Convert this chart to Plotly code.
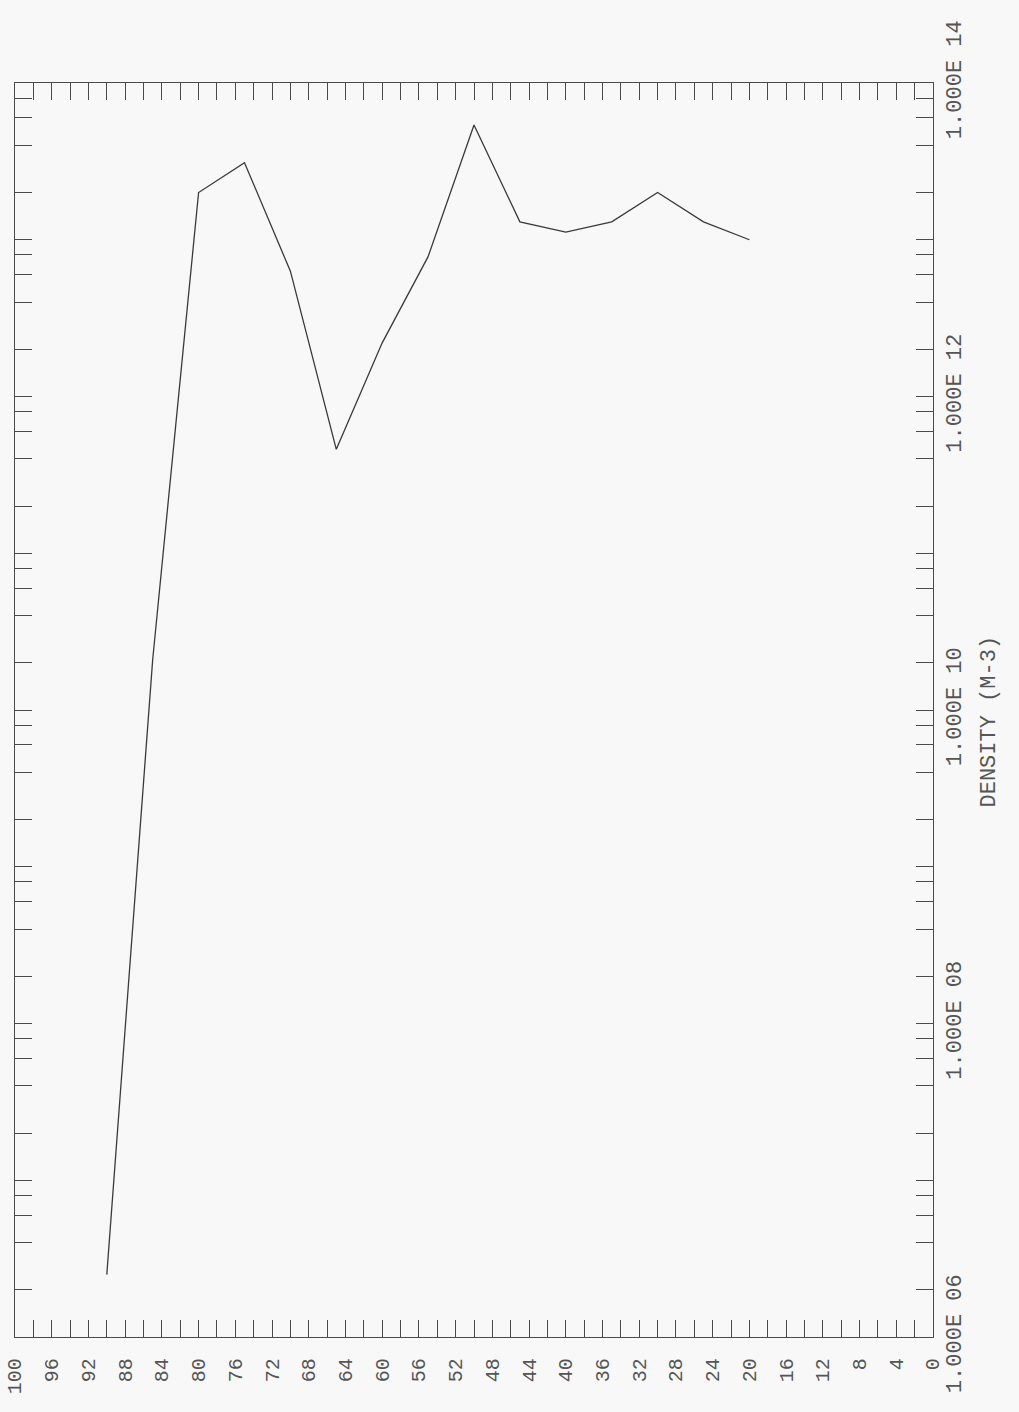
import plotly.graph_objects as go

# Data (altitude in km, density in m^-3)
altitude_km = [90, 85, 80, 75, 70, 65, 60, 55, 50, 45, 40, 35, 30, 25, 20]
density_m3 = [2.5e6, 2.1e10, 2.0e13, 3.1e13, 6.3e12, 4.6e11, 2.2e12, 7.8e12,
              5.4e13, 1.3e13, 1.12e13, 1.3e13, 2.0e13, 1.3e13, 1.0e13]

# Axis ticks
alt_tick_vals = list(range(0, 101, 2))
alt_tick_text = [str(v) if v % 4 == 0 else "" for v in alt_tick_vals]

dens_tick_vals = []
dens_tick_text = []
for e in range(6, 14):
    for m in [1, 2, 4, 6, 8]:
        dens_tick_vals.append(m * 10 ** e)
        dens_tick_text.append(f"1.000E {e:02d}" if (m == 1 and e % 2 == 0) else "")
dens_tick_vals.append(1e14)
dens_tick_text.append("1.000E 14")

ink = "#4a4a4a"
bg = "#f8f8f8"
font_family = "Liberation Mono, DejaVu Sans Mono, monospace"

fig = go.Figure()
fig.add_trace(go.Scatter(
    x=altitude_km, y=density_m3, mode="lines",
    line=dict(color="#3a3a3a", width=1.3),
    showlegend=False,
))

L, R, T, B = 15, 86, 83, 75
W, H = 1019, 1412

fig.update_layout(
    width=W, height=H,
    margin=dict(l=L, r=R, t=T, b=B, pad=0, autoexpand=False),
    paper_bgcolor=bg, plot_bgcolor=bg,
    font=dict(family=font_family, color=ink),
    xaxis=dict(
        range=[100, 0], tickmode="array", tickvals=alt_tick_vals, ticktext=alt_tick_text,
        ticks="inside", ticklen=17, tickwidth=1.3, tickcolor=ink,
        showline=True, linecolor=ink, linewidth=1.3, mirror="allticks",
        showgrid=False, zeroline=False, tickangle=-90, automargin=False,
        tickfont=dict(size=20, family=font_family, color="#555"),
        ticklabelstandoff=12,
    ),
    yaxis=dict(
        type="log", range=[6, 14], side="right",
        tickmode="array", tickvals=dens_tick_vals, ticktext=dens_tick_text,
        ticks="inside", ticklen=17, tickwidth=1.3, tickcolor=ink,
        showline=True, linecolor=ink, linewidth=1.3, mirror="allticks",
        showgrid=False, zeroline=False, tickangle=-90, automargin=False,
        tickfont=dict(size=22, family=font_family, color="#555"),
        ticklabelstandoff=0,
    ),
)

pw = W - L - R
ph = H - T - B
fig.add_annotation(
    text="DENSITY (M-3)", xref="paper", yref="paper",
    x=(1003 - L) / pw, y=(H - B - 722) / ph,
    showarrow=False, textangle=-90,
    font=dict(size=22, family=font_family, color="#555"),
)

fig.write_html("out.html")
